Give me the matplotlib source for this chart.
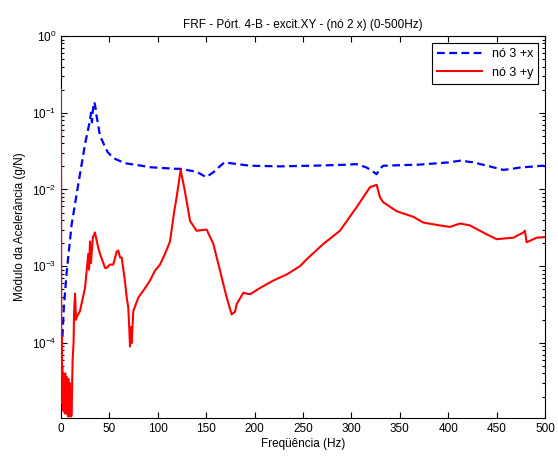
import numpy as np
import matplotlib
matplotlib.use("Agg")
import matplotlib.pyplot as plt
from matplotlib.ticker import LogLocator, FixedLocator, NullFormatter

plt.rcParams['font.family'] = ['Liberation Sans', 'DejaVu Sans']
plt.rcParams['mathtext.default'] = 'regular'
plt.rcParams['font.size'] = 8.5

# node 3 +x (blue dashed)
freq_x = [1.5, 3, 6, 11, 18, 25, 30, 31, 32, 33, 34.4, 35.5, 36.5, 38.5, 40.3,
          45.5, 48, 50.6, 56, 66, 83, 92, 118, 123, 140, 150, 157, 164, 169,
          175, 195, 226, 260, 295, 305, 315, 320, 326, 330, 333, 371, 400,
          415, 420, 425, 440, 457, 465, 474, 498, 500]
amp_x = [1.2e-4, 3e-4, 8.7e-4, 3.5e-3, 1.2e-2, 4e-2, 8e-2, 0.10, 0.075, 0.11,
         0.138, 0.12, 0.095, 0.068, 0.050, 0.036, 0.031, 0.0285, 0.025,
         0.022, 0.0204, 0.0195, 0.0186, 0.0186, 0.017, 0.0145, 0.0166, 0.020,
         0.0226, 0.022, 0.0204, 0.020, 0.0204, 0.021, 0.0214, 0.0195, 0.018,
         0.0158, 0.019, 0.0204, 0.0211, 0.0225, 0.024, 0.023, 0.0227, 0.0204,
         0.018, 0.0185, 0.0193, 0.0204, 0.020]

# node 3 +y (red solid)
freq_y = [0, 0.3, 0.6, 1.0, 1.3, 1.6, 2.0, 2.4, 2.8, 3.2, 3.6, 4.0, 4.4, 4.8,
          5.2, 5.6, 6.0, 6.4, 6.8, 7.2, 7.6, 8.0, 8.4, 8.8, 9.2, 9.6, 10.0,
          10.5, 11, 12, 13, 13.5, 14.5, 15.5, 16.5, 19.6, 24.8, 28.2, 29, 30,
          31, 31.7, 33, 34.4, 35, 38.5, 40.3, 45.5, 47.2, 50.6, 54, 57.5,
          59.2, 61, 62.7, 66, 67.9, 69.5, 70.5, 71.3, 72.2, 73, 74.7, 79.9,
          86, 92, 97, 102.3, 108, 112.6, 117, 119.5, 123.6, 128, 133.3, 140,
          150.5, 157.4, 164.3, 171.2, 176.3, 179.8, 181.5, 188.3, 195.2,
          205.6, 219.3, 233.2, 246.9, 253.8, 271, 288.2, 305.5, 319.2, 326.1,
          329.5, 333, 346.8, 364, 374.3, 391.5, 401.9, 412.2, 422.5, 439.8,
          450, 467.3, 477.6, 479.3, 481, 491.4, 500]
amp_y = [0.2, 2e-5, 1.2e-4, 2e-5, 5e-5, 1.6e-5, 3.5e-5, 1.3e-5, 4e-5, 1.5e-5,
         3e-5, 1.2e-5, 4e-5, 1.8e-5, 3.2e-5, 1.2e-5, 3.6e-5, 1.4e-5, 2.8e-5,
         1.1e-5, 3.4e-5, 1.3e-5, 2.6e-5, 1.1e-5, 3e-5, 1.2e-5, 2.4e-5,
         1.1e-5, 1.2e-5, 6e-5, 1e-4, 2.5e-4, 4.4e-4, 2e-4, 2.2e-4, 2.6e-4,
         5.2e-4, 1.45e-3, 9e-4, 2.1e-3, 1.1e-3, 1.5e-3, 2.4e-3, 2.6e-3,
         2.75e-3, 1.75e-3, 1.45e-3, 9.5e-4, 9.5e-4, 1.05e-3, 1.05e-3,
         1.55e-3, 1.6e-3, 1.3e-3, 1.3e-3, 6.5e-4, 3.9e-4, 2.9e-4, 1.6e-4,
         9e-5, 1.6e-4, 1e-4, 2.6e-4, 3.9e-4, 5.0e-4, 6.5e-4, 8.7e-4, 1.05e-3,
         1.5e-3, 2.1e-3, 5.2e-3, 8e-3, 1.8e-2, 9.5e-3, 3.9e-3, 2.9e-3,
         3.0e-3, 1.95e-3, 8.7e-4, 3.9e-4, 2.35e-4, 2.55e-4, 3.2e-4, 4.5e-4,
         4.3e-4, 5.2e-4, 6.5e-4, 7.8e-4, 1.0e-3, 1.23e-3, 1.95e-3, 2.9e-3,
         5.9e-3, 1.07e-2, 1.15e-2, 7.9e-3, 6.8e-3, 5.2e-3, 4.4e-3, 3.7e-3,
         3.4e-3, 3.25e-3, 3.6e-3, 3.4e-3, 2.6e-3, 2.25e-3, 2.35e-3, 2.75e-3,
         2.9e-3, 2.05e-3, 2.35e-3, 2.4e-3]

xticks = np.arange(0, 501, 50)

fig = plt.figure(figsize=(5.58, 4.57), dpi=100)
ax = fig.add_axes([0.1093, 0.0853, 0.8674, 0.8359])

ax.semilogy(freq_x, amp_x, '--', color='#0000ff', lw=1.6, dashes=(3.5, 2),
            label='nó 3 +x', zorder=3)
ax.semilogy(freq_y, amp_y, '-', color='#ff0000', lw=1.5, label='nó 3 +y',
            zorder=3)

ax.set_xlim(0, 500)
ax.set_ylim(1.05e-5, 1)
ax.xaxis.set_major_locator(FixedLocator(xticks))
ax.yaxis.set_major_locator(FixedLocator([1e-4, 1e-3, 1e-2, 1e-1, 1e0]))
ax.yaxis.set_minor_locator(LogLocator(base=10, subs=np.arange(2, 10), numticks=20))
ax.yaxis.set_minor_formatter(NullFormatter())
ax.tick_params(which='both', direction='in', top=True, right=True)
ax.tick_params(which='major', length=4, width=0.8)
ax.tick_params(which='minor', length=2.5, width=0.8)
for s in ax.spines.values():
    s.set_linewidth(0.8)

ax.set_title('FRF - Pórt. 4-B - excit.XY - (nó 2 x) (0-500Hz)', fontsize=8.5, pad=6)
ax.set_xlabel('Freqüência (Hz)', labelpad=2)
ax.set_ylabel('Módulo da Acelerância (g/N)', labelpad=4)

leg = ax.legend(loc='upper right', fancybox=False, framealpha=1,
                edgecolor='black', handlelength=3.6, labelspacing=0.55,
                borderaxespad=0.55, fontsize=9)
leg.get_frame().set_linewidth(0.8)
leg.set_zorder(5)

fig.savefig('out.png', dpi=100)
